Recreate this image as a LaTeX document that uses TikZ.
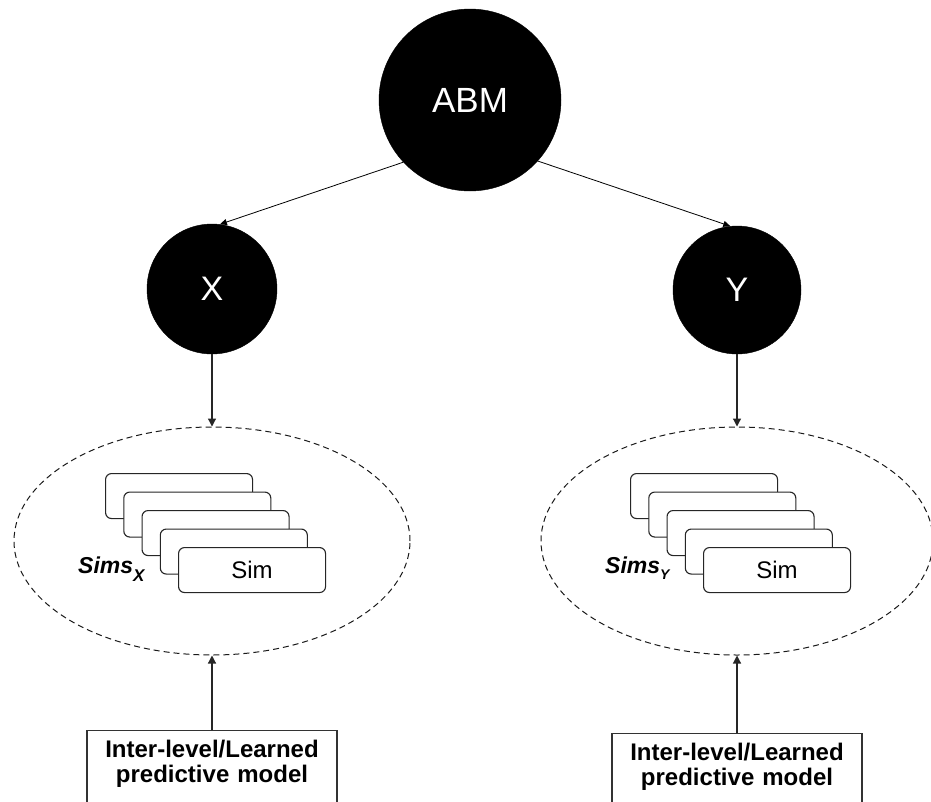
\documentclass[tikz,border=0pt]{standalone}
\usepackage{fontspec}
\setmainfont{Liberation Sans}
\usetikzlibrary{arrows.meta,shapes.geometric}
\begin{document}
\begin{tikzpicture}[x=1pt,y=-1pt,
  bignode/.style={circle,fill=black,draw=black,text=white,inner sep=0pt},
  simbox/.style={draw=black!85,line width=1.1pt,rounded corners=6pt,fill=white,
    minimum width=147pt,minimum height=45pt,anchor=north west,inner sep=0pt,
    font=\fontsize{24}{24}\selectfont},
  simgroup/.style={ellipse,draw=black!90,dash pattern=on 6pt off 4pt,line width=1pt,
    minimum width=396pt,minimum height=228pt,inner sep=0pt},
  modelbox/.style={draw=black!80,line width=1.1pt,text width=230pt,align=center,
    anchor=north,inner xsep=10pt,inner ysep=10pt,text depth=60pt,
    font=\bfseries\fontsize{24}{25}\selectfont},
  simslabel/.style={anchor=base west,inner sep=0pt,font=\bfseries\itshape\fontsize{23}{23}\selectfont},
  link/.style={line width=0.8pt,-{Triangle[length=7pt,width=6pt]}},
  feed/.style={draw=black!85,line width=1.2pt,-{Triangle[length=8pt,width=8pt]}}
]
\useasboundingbox (0,0) rectangle (931,801);
\clip (0,0) rectangle (931,801);

% top-level model and its two levels
\node[bignode,minimum size=182pt,font=\fontsize{35}{35}\selectfont] (abm) at (470,100) {ABM};
\node[bignode,minimum size=130pt,font=\fontsize{34}{34}\selectfont] (x) at (212,289) {X};
\node[bignode,minimum size=128pt,font=\fontsize{34}{34}\selectfont] (y) at (737,290) {Y};

\draw[link] (abm.223) -- (x.83);
\draw[link] (abm.318) -- (y.96);

% simulation groups
\node[simgroup] (gx) at (212,541) {};
\node[simgroup,minimum width=392pt] (gy) at (737,541) {};

% stacked simulation runs, left
\node[simbox] (sx0) at (105,473) {};
\node[simbox] (sx1) at (123.25,491.5) {};
\node[simbox] (sx2) at (141.5,510) {};
\node[simbox] (sx3) at (159.75,528.5) {};
\node[simbox] (sx4) at (178,547) {Sim};
\node[simslabel] (lx) at (78,573) {Sims\raisebox{-8pt}{\fontsize{17}{17}\selectfont X}};

% stacked simulation runs, right
\node[simbox] (sy0) at (630,473) {};
\node[simbox] (sy1) at (648.25,491.5) {};
\node[simbox] (sy2) at (666.5,510) {};
\node[simbox] (sy3) at (684.75,528.5) {};
\node[simbox] (sy4) at (703,547) {Sim};
\node[simslabel] (ly) at (605,573) {Sims\raisebox{-6pt}{\fontsize{14}{14}\selectfont Y}};

\draw[feed] (x.south) -- (gx.north);
\draw[feed] (y.south) -- (gy.north);

% predictive models
\node[modelbox] (mx) at (212,730) {Inter-level/Learned predictive model};
\node[modelbox] (my) at (737,733) {Inter-level/Learned predictive model};

\draw[feed] (mx.north) -- (gx.south);
\draw[feed] (my.north) -- (gy.south);
\end{tikzpicture}
\end{document}
